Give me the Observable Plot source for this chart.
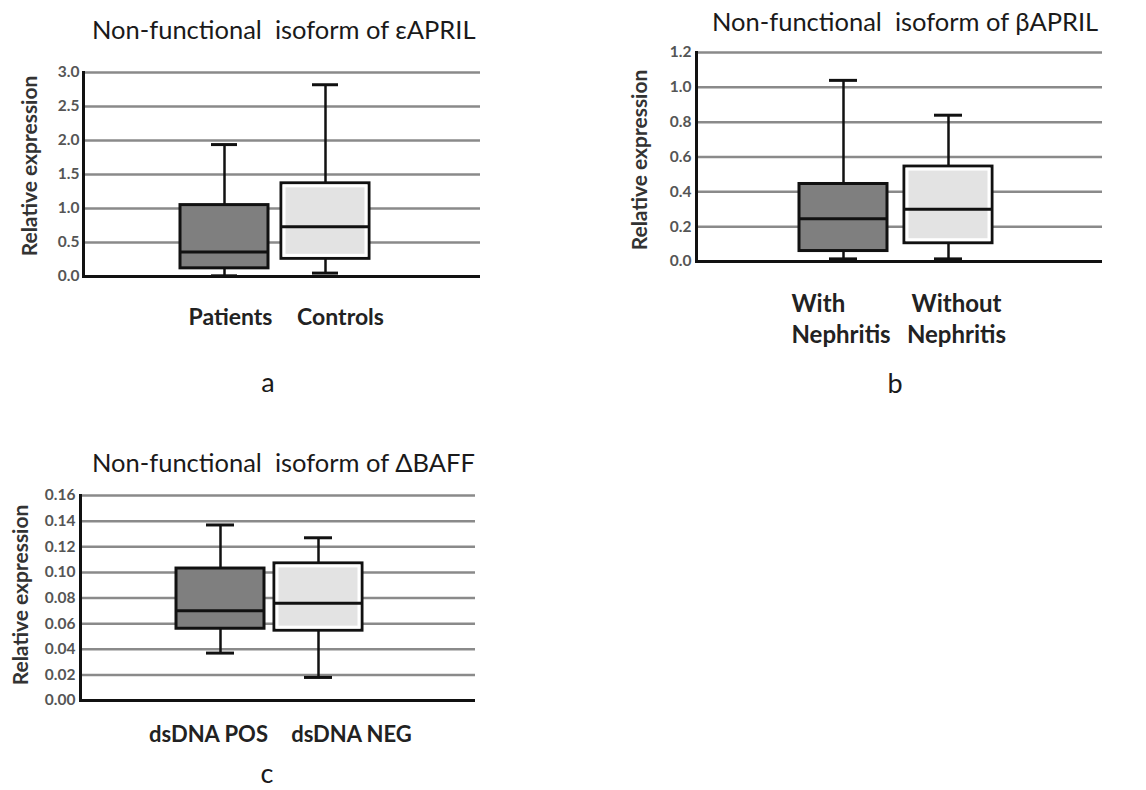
<!DOCTYPE html>
<html><head><meta charset="utf-8">
<script src="https://cdn.jsdelivr.net/npm/d3@7"></script>
<script src="https://cdn.jsdelivr.net/npm/@observablehq/plot@0.6"></script>
<style>
body{margin:0;background:#fff;font-family:Lato,"Open Sans",sans-serif;}
#root{position:relative;width:1146px;height:790px;overflow:hidden;background:#fff;}
.panel{position:absolute;}
.title{position:absolute;white-space:pre;font-size:25.5px;color:#1a1a1a;transform:translateY(-50%);line-height:1;}
.ylab{position:absolute;font-weight:bold;font-size:21px;color:#333;white-space:nowrap;transform:translate(-50%,-50%) rotate(-90deg);line-height:1;}
.letter{position:absolute;font-size:27px;color:#1a1a1a;transform:translate(-50%,-50%);line-height:1;}
</style></head><body><div id="root"></div><script>
// ---- Data ----
// Panel a
const groupsA = ["Patients", "Controls"];
const minA = [0.01, 0.05];
const q1A = [0.12, 0.26];
const medA = [0.36, 0.73];
const q3A = [1.05, 1.37];
const maxA = [1.94, 2.82];
const ticksA = [0, 0.5, 1.0, 1.5, 2.0, 2.5, 3.0];
// Panel b
const groupsB = ["With\nNephritis", "Without\nNephritis"];
const minB = [0.015, 0.015];
const q1B = [0.06, 0.105];
const medB = [0.245, 0.30];
const q3B = [0.445, 0.545];
const maxB = [1.04, 0.84];
const ticksB = [0, 0.2, 0.4, 0.6, 0.8, 1.0, 1.2];
// Panel c
const groupsC = ["dsDNA POS", "dsDNA NEG"];
const minC = [0.037, 0.018];
const q1C = [0.056, 0.0545];
const medC = [0.070, 0.076];
const q3C = [0.103, 0.107];
const maxC = [0.137, 0.127];
const ticksC = [0, 0.02, 0.04, 0.06, 0.08, 0.10, 0.12, 0.14, 0.16];

const titles = ["Non-functional  isoform of εAPRIL", "Non-functional  isoform of βAPRIL", "Non-functional  isoform of ΔBAFF"];
const letters = ["a", "b", "c"];
const yLabel = "Relative expression";
const boxFills = ["#7f7f7f", "#e3e3e3"];

const root = document.getElementById("root");

function panel(cfg) {
  const idx = [0, 1];
  const X = i => cfg.groups[i];
  const marks = [
    Plot.ruleY(cfg.ticks.slice(1), {stroke: "#8a8a8a", strokeWidth: 2.5}),
    Plot.ruleX(idx, {x: X, y1: i => cfg.q3[i], y2: i => cfg.max[i], stroke: "#111", strokeWidth: 2.5}),
    Plot.ruleX(idx, {x: X, y1: i => cfg.min[i], y2: i => cfg.q1[i], stroke: "#111", strokeWidth: 2.5}),
    Plot.barY(idx, {x: X, y1: i => cfg.q1[i], y2: i => cfg.q3[i], fill: i => boxFills[i], stroke: "#111", strokeWidth: 3}),
    Plot.barY([1], {x: X, y1: i => cfg.q1[i], y2: i => cfg.q3[i], fill: "none", stroke: "#fff", strokeWidth: 3, inset: 3}),
    Plot.tickY(idx, {x: X, y: i => cfg.med[i], stroke: "#111", strokeWidth: 3}),
    Plot.tickY(idx, {x: X, y: i => cfg.max[i], stroke: "#111", strokeWidth: 3, insetLeft: cfg.capInset, insetRight: cfg.capInset}),
    Plot.tickY(idx, {x: X, y: i => cfg.min[i], stroke: "#111", strokeWidth: 3, insetLeft: cfg.capInset, insetRight: cfg.capInset}),
    Plot.ruleY([0], {stroke: "#111", strokeWidth: 3}),
    Plot.frame({anchor: "left", stroke: "#111", strokeWidth: 3}),
    Plot.axisY({ticks: cfg.ticks, tickSize: 0, tickPadding: cfg.tickPad, tickFormat: d3.format(cfg.fmt), fontSize: 15.5, fontWeight: "bold", color: "#555", label: null})
  ];
  idx.forEach(i => {
    marks.push(Plot.text([i], {x: X, y: () => 0, text: i => cfg.groups[i], dx: cfg.labelDx[i], dy: cfg.labelDy,
      textAnchor: cfg.labelAnchor[i], fontSize: cfg.labelSize, fontWeight: "bold", fill: "#222", lineHeight: cfg.lineHeight}));
  });
  const svg = Plot.plot({
    width: cfg.width, height: cfg.height,
    marginLeft: cfg.ml, marginRight: cfg.mr, marginTop: cfg.mt, marginBottom: cfg.mb,
    style: {fontFamily: "Lato, 'Open Sans', sans-serif", background: "transparent", overflow: "visible"},
    x: {domain: cfg.groups, paddingInner: cfg.pi, paddingOuter: cfg.po, align: cfg.align, axis: null},
    y: {domain: [0, cfg.ticks[cfg.ticks.length - 1]]},
    marks
  });
  const div = document.createElement("div");
  div.className = "panel";
  div.style.left = cfg.left + "px";
  div.style.top = cfg.top + "px";
  div.appendChild(svg);
  root.appendChild(div);

  const t = document.createElement("div");
  t.className = "title"; t.textContent = cfg.title;
  t.style.left = cfg.titleX + "px"; t.style.top = cfg.titleY + "px";
  root.appendChild(t);
  const yl = document.createElement("div");
  yl.className = "ylab"; yl.textContent = yLabel;
  yl.style.left = cfg.ylX + "px"; yl.style.top = cfg.ylY + "px";
  root.appendChild(yl);
  const l = document.createElement("div");
  l.className = "letter"; l.textContent = cfg.letter;
  l.style.left = cfg.letterX + "px"; l.style.top = cfg.letterY + "px";
  root.appendChild(l);
}

panel({groups: groupsA, min: minA, q1: q1A, med: medA, q3: q3A, max: maxA, ticks: ticksA, fmt: ".1f",
  left: 0, top: 0, width: 500, height: 340, ml: 83, mr: 20, mt: 72, mb: 64,
  pi: 0.13, po: 1.03, align: 0.466, capInset: 31, tickPad: 4,
  labelDx: [6, 15], labelDy: 39, labelAnchor: ["middle", "middle"], labelSize: 23, lineHeight: 1.3,
  title: titles[0], titleX: 92, titleY: 30, ylX: 28, ylY: 166, letter: letters[0], letterX: 268, letterY: 381});

panel({groups: groupsB, min: minB, q1: q1B, med: medB, q3: q3B, max: maxB, ticks: ticksB, fmt: ".1f",
  left: 600, top: 0, width: 520, height: 360, ml: 96, mr: 18, mt: 52, mb: 99,
  pi: 0.16, po: 1.0, align: 0.483, capInset: 30, tickPad: 5,
  labelDx: [-52, 8], labelDy: 56, labelAnchor: ["start", "middle"], labelSize: 24, lineHeight: 1.3,
  title: titles[1], titleX: 712, titleY: 22, ylX: 638, ylY: 160, letter: letters[1], letterX: 895, letterY: 382});

panel({groups: groupsC, min: minC, q1: q1C, med: medC, q3: q3C, max: maxC, ticks: ticksC, fmt: ".2f",
  left: 0, top: 420, width: 500, height: 360, ml: 80, mr: 25, mt: 75, mb: 80,
  pi: 0.10, po: 1.05, align: 0.462, capInset: 30, tickPad: 5,
  labelDx: [-12, 33], labelDy: 32, labelAnchor: ["middle", "middle"], labelSize: 22, lineHeight: 1.3,
  title: titles[2], titleX: 92, titleY: 463, ylX: 19, ylY: 595, letter: letters[2], letterX: 267, letterY: 772});
</script></body></html>
